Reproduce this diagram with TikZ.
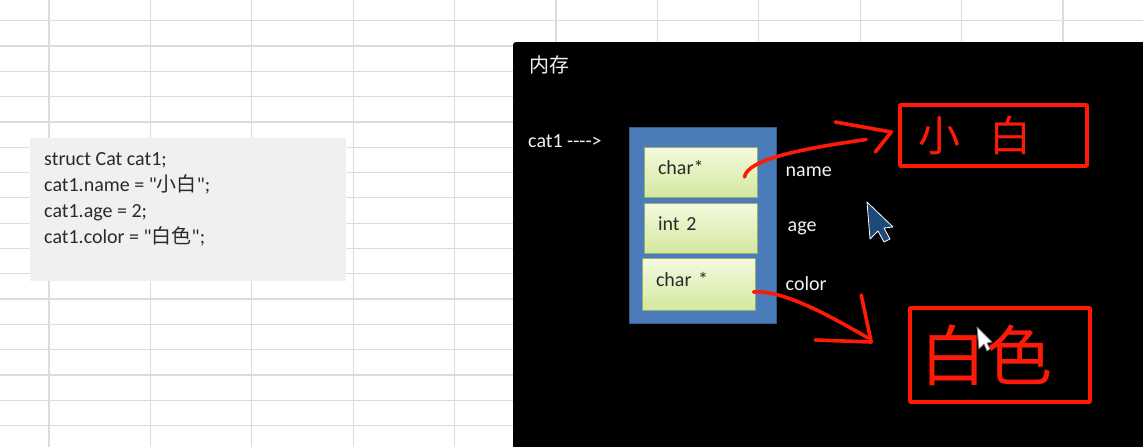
\documentclass[tikz,border=0pt]{standalone}
\usepackage{fontspec}
\setmainfont{Carlito}[Ligatures=TeXOff]
\newfontfamily\cjk{Noto Sans CJK SC}
\usetikzlibrary{arrows.meta,positioning}
\definecolor{gridln}{HTML}{DCDCDC}
\definecolor{codebg}{HTML}{F0F0F0}
\definecolor{ink}{HTML}{2A2A2A}
\definecolor{memtxt}{HTML}{F2F2F2}
\definecolor{blkfill}{HTML}{4A7CBA}
\definecolor{blkln}{HTML}{35598A}
\definecolor{cellhi}{HTML}{F4FADF}
\definecolor{celllo}{HTML}{D3E8A0}
\definecolor{cellln}{HTML}{98AC74}
\definecolor{penred}{HTML}{FF1A08}
\definecolor{curblue}{HTML}{1E4A78}
\tikzset{
  every node/.style={font=\fontsize{20}{24}\selectfont},
  codebox/.style={fill=codebg,minimum width=316pt,minimum height=143pt,inner sep=0pt},
  codeln/.style={anchor=base west,text=ink,inner sep=0pt},
  panel/.style={fill=black,rounded corners=3pt},
  memlab/.style={text=memtxt,inner sep=0pt},
  memblk/.style={fill=blkfill,draw=blkln,line width=1pt,minimum width=147pt,minimum height=196pt},
  cell/.style={draw=cellln,line width=1pt,top color=cellhi,bottom color=celllo,
               minimum height=50pt,text width=85pt,inner xsep=14pt,align=left,
               text height=14pt,text depth=10pt,text=ink},
  fld/.style={memlab},
  redpen/.style={draw=penred,line width=3.6pt,line cap=round,line join=round},
  penbox/.style={redpen,align=left,text=penred,inner ysep=0pt},
  cursor/.style={line width=0.8pt,line join=round},
}
\begin{document}
\begin{tikzpicture}[x=1pt,y=-1pt]
\useasboundingbox (0,0) rectangle (1143,447);

% ---- sheet grid ----
\fill[white] (0,0) rectangle (1143,447);
\foreach \k in {0,...,10}
  \draw[gridln,line width=1.2pt] ({49+101.4*\k},0) -- ({49+101.4*\k},447);
\foreach \k in {0,...,16}
  \draw[gridln,line width=1.2pt] (0,{20.7+25.3*\k}) -- (1143,{20.7+25.3*\k});

% ---- code box ----
\node[codebox] (code) at (188,209.5) {};
\node[codeln] (l1) at (44,165) {struct Cat cat1;};
\node[codeln] (l2) at (44,191) {cat1.name = "{\cjk 小白}";};
\node[codeln] (l3) at (44,217) {cat1.age = 2;};
\node[codeln] (l4) at (44,243) {cat1.color = "{\cjk 白色}";};

% ---- memory panel ----
\path[panel] (513,42) rectangle (1160,460);
\node[memlab,anchor=west,font=\cjk\fontsize{20}{22}\selectfont] (mem) at (529,65) {内存};
\node[memlab,anchor=west] (ptr) at (528,141) {cat1 ---->};

\node[memblk] (blk) at (702.5,225) {};
\node[cell] (c1) at (700.5,172) {char*};
\node[cell] (c2) at (700.5,228) {int 2};
\node[cell,minimum height=52pt] (c3) at (698.5,284) {char *};

\node[fld,right=28pt of c1] (n1) {name};
\node[fld,right=30pt of c2] (n2) {age};
\node[fld,right=30pt of c3] (n3) {color};

% ---- pen notes ----
\node[penbox,minimum width=187pt,minimum height=61pt,text width=151pt,inner xsep=18pt,
      font=\cjk\fontsize{42}{42}\selectfont] (xb) at (993.5,135.5) {小\hspace{30pt}白};
\node[penbox,minimum width=180pt,minimum height=94pt,text width=160pt,inner xsep=10pt,
      font=\cjk\fontsize{66}{66}\selectfont] (xs) at (1000,355) {白色};

\draw[redpen] ([shift={(-13,5)}]c1.east) .. controls +(3,-17) and +(-70,10) .. ([shift={(-32,4)}]xb.west);
\draw[redpen] ([shift={(-63,-13.5)}]xb.west) -- ([shift={(-7,-3.5)}]xb.west) -- ([shift={(-23,16.5)}]xb.west);

\draw[redpen] ([shift={(-2,8)}]c3.east) .. controls +(30,-2) and +(-40,-23) .. ([shift={(-40,-17)}]xs.west);
\draw[redpen] ([shift={(-47,-60)}]xs.west) -- ([shift={(-37,-13)}]xs.west) -- ([shift={(-93,-15)}]xs.west);

% ---- mouse pointers ----
\filldraw[cursor,fill=curblue,draw=white,shift={(867,202)}]
  (0,0) -- (3,37) -- (11,29) -- (17,40) -- (23,37) -- (17,26) -- (26,25) -- cycle;
\filldraw[cursor,fill=white,draw=gray,shift={(977,327)}]
  (0,0) -- (2,22) -- (7,17) -- (10,24) -- (13,22) -- (10,16) -- (15,15) -- cycle;

\end{tikzpicture}
\end{document}
